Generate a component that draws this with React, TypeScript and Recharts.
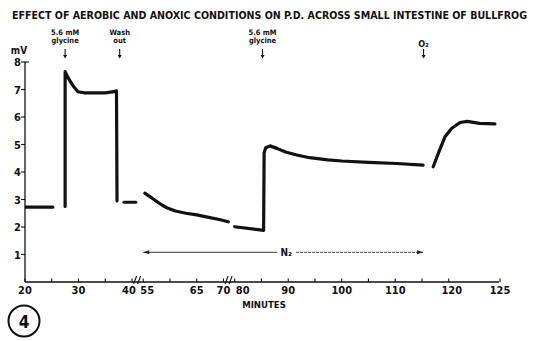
import React from 'react';
import { LineChart, Line, XAxis, YAxis, ReferenceDot, ReferenceLine } from 'recharts';

const FONT = "'Liberation Sans Narrow', 'DejaVu Sans Condensed', 'Liberation Sans', Arial, sans-serif";
const INK = '#111';

// traces, minutes vs mV (the record is cut into pieces)
const baseMin = [20, 25.2];
const baseMv = [2.72, 2.72];
const gly1Min = [27.5, 27.5, 28.0, 28.6, 29.2, 29.9, 31, 33, 35, 36.6, 37.1, 37.2];
const gly1Mv = [2.75, 7.65, 7.45, 7.25, 7.08, 6.92, 6.88, 6.88, 6.88, 6.92, 6.95, 2.95];
const washMin = [38.5, 40.7];
const washMv = [2.9, 2.9];
const n2Min = [55.3, 56.5, 57.5, 58.5, 59.4, 61, 63, 65, 67, 69, 70.9];
const n2Mv = [3.23, 3.07, 2.93, 2.8, 2.7, 2.58, 2.5, 2.44, 2.36, 2.28, 2.19];
const gly2Min = [80, 85.4, 85.5, 85.8, 86.6, 88, 89.5, 91.6, 94, 97.4, 100, 105, 110.3, 115.2];
const gly2Mv = [2.01, 1.88, 4.7, 4.88, 4.95, 4.85, 4.73, 4.62, 4.52, 4.44, 4.4, 4.35, 4.31, 4.25];
const o2Min = [117.1, 118.2, 119.3, 120.3, 121.1, 121.8, 123.0, 124.5];
const o2Mv = [4.19, 4.75, 5.28, 5.59, 5.8, 5.84, 5.77, 5.75];

// axis
const xMajor = [20, 30, 40, 55, 65, 70, 80, 90, 100, 110, 120, 125];
const xMinor = [25, 35, 60, 85, 95, 105, 115];
const yTicks = [1, 2, 3, 4, 5, 6, 7, 8];
const labelNudge: Record<number, number> = { 40: -3, 55: 4, 80: 8, 120: 3 };

// events marked above the trace
const eventMin = [27.5, 37.7, 85.2, 115.3];
const eventText = [['5.6 mM', 'glycine'], ['Wash', 'out'], ['5.6 mM', 'glycine'], ['O₂']];
const n2Span = [55, 115.2];
const n2Level = 1.08;
const axisBreaks = [[40, 55], [70, 80]];

// broken time axis -> plotting units
const toU = (m: number) => {
  if (m < 48) return m - 20;
  if (m < 75) return m - 32.9;
  if (m <= 120) return m - 40.8;
  return 79.2 + (m - 120) * 1.92;
};

const traces = [
  [baseMin, baseMv], [gly1Min, gly1Mv], [washMin, washMv],
  [n2Min, n2Mv], [gly2Min, gly2Mv], [o2Min, o2Mv],
].map(([ms, vs]) => ms.map((m, i) => ({ u: toU(m), v: vs[i] })));

const XTick = ({ x, y, payload }: any) => {
  const i = xMajor.findIndex((m) => Math.abs(toU(m) - payload.value) < 1e-6);
  return (
    <g>
      <line x1={x} x2={x} y1={y} y2={y - 3.5} stroke={INK} strokeWidth={1.1} />
      {i >= 0 && (
        <text x={x + (labelNudge[xMajor[i]] || 0)} y={y + 12} textAnchor="middle"
          fontFamily={FONT} fontWeight={700} fontSize={11} fill={INK}>
          {xMajor[i]}
        </text>
      )}
    </g>
  );
};

const YTick = ({ x, y, payload }: any) => (
  <g>
    <line x1={x - 4} x2={payload.value === 8 ? x + 4 : x} y1={y} y2={y} stroke={INK} strokeWidth={1.1} />
    <text x={x - 4} y={y + 4} textAnchor="end" fontFamily={FONT} fontWeight={700} fontSize={11} fill={INK}>
      {payload.value}
    </text>
  </g>
);

const eventMark = (lines: string[]) => (p: any) => {
  const { cx, cy } = p;
  const single = lines.length === 1;
  return (
    <g>
      {lines.map((t, k) => (
        <text key={k} x={cx} y={single ? cy - 15 : cy - 27 + k * 7.5} textAnchor="middle"
          fontFamily={FONT} fontWeight={700} fontSize={single ? 9 : 7.5} fill={INK}>
          {t}
        </text>
      ))}
      <line x1={cx} x2={cx} y1={cy - 13} y2={cy - 6} stroke={INK} strokeWidth={1.1} />
      <path d={`M${cx - 2},${cy - 7} L${cx + 2},${cy - 7} L${cx},${cy - 3.5} Z`} fill={INK} />
    </g>
  );
};

const breakMark = (p: any) => {
  const { cx, cy } = p;
  return (
    <g stroke={INK} strokeWidth={1.1}>
      <line x1={cx - 4} y1={cy + 2} x2={cx - 1} y2={cy - 6} />
      <line x1={cx} y1={cy + 2} x2={cx + 3} y2={cy - 6} />
    </g>
  );
};

const n2Arrow = (p: any) => {
  const { x1, y1, x2 } = p;
  const mid = (x1 + x2) / 2 + 3;
  return (
    <g>
      <line x1={x1} y1={y1} x2={mid - 9} y2={y1} stroke="#222" strokeWidth={0.9} />
      <line x1={mid + 10} y1={y1} x2={x2} y2={y1} stroke="#222" strokeWidth={0.9} strokeDasharray="3 1" />
      <path d={`M${x1},${y1} l6,-2 l0,4 z`} fill="#222" />
      <path d={`M${x2},${y1} l-6,-2 l0,4 z`} fill="#222" />
      <text x={mid} y={y1 + 4} textAnchor="middle" fontFamily={FONT} fontWeight={700} fontSize={10} fill={INK}>
        N₂
      </text>
    </g>
  );
};

export default function App() {
  return (
    <div style={{ position: 'absolute', left: 0, top: 0, width: 535, height: 341, background: '#fff' }}>
      <LineChart width={535} height={341} margin={{ top: 62, right: 36, bottom: 39, left: 0 }}>
        <XAxis type="number" dataKey="u" domain={[0, 88.6]} allowDataOverflow
          ticks={[...xMajor, ...xMinor].map(toU)} interval={0} tickSize={0} tickMargin={0}
          tick={<XTick />} height={20} axisLine={{ stroke: INK, strokeWidth: 1.3 }} />
        <YAxis type="number" domain={[0, 8]} ticks={yTicks} interval={0} tickSize={0} tickMargin={0}
          tick={<YTick />} width={25} axisLine={{ stroke: INK, strokeWidth: 1.3 }} />
        {traces.map((d, i) => (
          <Line key={i} data={d} dataKey="v" type="linear" stroke={INK} strokeWidth={3.2}
            strokeLinecap="round" strokeLinejoin="round" dot={false} isAnimationActive={false} />
        ))}
        {eventMin.map((m, i) => (
          <ReferenceDot key={'e' + i} x={toU(m)} y={8} ifOverflow="visible" shape={eventMark(eventText[i])} />
        ))}
        {axisBreaks.map(([a, b], i) => (
          <ReferenceDot key={'b' + i} x={(toU(a) + toU(b)) / 2} y={0} ifOverflow="visible" shape={breakMark} />
        ))}
        <ReferenceLine segment={[{ x: toU(n2Span[0]), y: n2Level }, { x: toU(n2Span[1]), y: n2Level }]}
          ifOverflow="visible" shape={n2Arrow} />
      </LineChart>
      <svg width={535} height={341} style={{ position: 'absolute', left: 0, top: 0, pointerEvents: 'none' }}>
        <text x={12} y={18.5} textLength={515} lengthAdjust="spacingAndGlyphs"
          fontFamily={FONT} fontWeight={700} fontSize={10} fill={INK}>
          EFFECT OF AEROBIC  AND ANOXIC CONDITIONS ON P.D. ACROSS SMALL INTESTINE OF BULLFROG
        </text>
        <text x={19} y={54} textAnchor="middle" fontFamily={FONT} fontWeight={700} fontSize={10} fill={INK}>mV</text>
        <text x={264} y={308} textAnchor="middle" fontFamily={FONT} fontWeight={700} fontSize={9.5} fill={INK}>MINUTES</text>
        <circle cx={24} cy={321} r={15.5} fill="none" stroke={INK} strokeWidth={2} />
        <text x={24} y={327.5} textAnchor="middle" fontFamily={FONT} fontWeight={700} fontSize={17} fill={INK}>4</text>
      </svg>
    </div>
  );
}
